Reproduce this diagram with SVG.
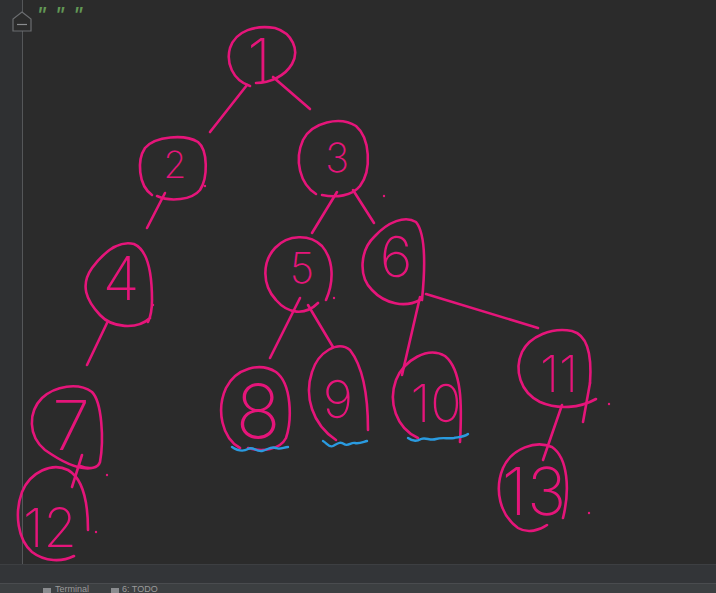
<svg xmlns="http://www.w3.org/2000/svg" width="716" height="593" viewBox="0 0 716 593">
<style>
.ink{fill:none;stroke:#e5157a;stroke-width:2.6;stroke-linecap:round;stroke-linejoin:round}
.lbl{fill:#e5157a;font-family:Inter,"Liberation Sans",sans-serif;font-weight:200;text-anchor:middle}
.wave{fill:none;stroke:#2a9be0;stroke-width:2.4;stroke-linecap:round;stroke-linejoin:round}
.dot{fill:#e5157a}
.ui{font-family:"Liberation Sans",sans-serif;font-size:9px;fill:#9a9a9a}
</style>
<rect width="716" height="593" fill="#2b2b2b"/>
<rect x="0" y="0" width="22" height="564" fill="#2f3032"/>
<line x1="22.5" y1="0" x2="22.5" y2="564" stroke="#555759" stroke-width="1"/>
<g id="fold">
<path d="M22,12 L31,19 L31,31 L13,31 L13,19 Z" fill="#2b2b2b" stroke="#6b6d70" stroke-width="1.2"/>
<line x1="17" y1="24.5" x2="27" y2="24.5" stroke="#8a8c8f" stroke-width="1.2"/>
</g>
<text x="36" y="20" font-family="'Liberation Mono',monospace" font-size="18" font-weight="bold" font-style="italic" fill="#629755" letter-spacing="7.5">"""</text>
<rect x="0" y="564" width="716" height="19" fill="#333538"/>
<line x1="0" y1="564.5" x2="716" y2="564.5" stroke="#3d3f42"/>
<rect x="0" y="583" width="716" height="10" fill="#3c3f41"/>
<line x1="0" y1="583.5" x2="716" y2="583.5" stroke="#4a4c4f"/>
<rect x="43" y="588" width="8" height="5" fill="#8a8c8f"/>
<text class="ui" x="55" y="592">Terminal</text>
<rect x="111" y="588" width="8" height="5" fill="#8a8c8f"/>
<text class="ui" x="122" y="592">6: TODO</text>

<g id="connectors">
<path class="ink" d="M247,85 L210,132"/>
<path class="ink" d="M273,77 L310,109"/>
<path class="ink" d="M165,193 L147,228"/>
<path class="ink" d="M337,192 L312,233"/>
<path class="ink" d="M353,190 L374,223"/>
<path class="ink" d="M107,323 L87,365"/>
<path class="ink" d="M300,298 L270,358"/>
<path class="ink" d="M308,305 L333,347"/>
<path class="ink" d="M420,297 L402,375"/>
<path class="ink" d="M426,294 L538,328"/>
<path class="ink" d="M82,455 L72,487"/>
<path class="ink" d="M562,405 L543,460"/>
</g>

<g id="node1"><path class="ink" d="M250,86 C232,80 226,62 230,48 C236,30 256,25 275,28 C292,33 300,50 292,64 C285,76 270,83 256,83"/><text class="lbl" x="259" y="83" font-size="62">1</text></g>
<g id="node2"><path class="ink" d="M152,195 C138,185 137,160 145,148 C155,136 185,134 198,142 C208,150 208,178 200,190 C192,200 170,202 157,196"/><text class="lbl" x="175" y="178" font-size="37">2</text></g>
<g id="node3"><path class="ink" d="M316,194 C300,184 294,160 303,140 C312,122 340,116 356,126 C370,138 372,170 360,186 C352,196 336,198 322,195"/><text class="lbl" x="337" y="172" font-size="40">3</text></g>
<g id="node4"><path class="ink" d="M150,318 C137,330 112,328 100,315 C86,300 80,285 92,268 C104,252 118,240 134,244 C148,250 152,275 152,300 C152,310 151,316 148,322"/><text class="lbl" x="121" y="300" font-size="60">4</text></g>
<g id="node5"><path class="ink" d="M318,303 C305,316 288,314 276,300 C262,285 262,262 275,248 C288,234 310,234 322,246 C334,260 334,282 326,300"/><text class="lbl" x="302" y="283" font-size="42">5</text></g>
<g id="node6"><path class="ink" d="M420,300 C405,308 385,304 372,290 C358,276 360,250 375,236 C388,222 405,215 416,222 C426,234 425,270 422,300"/><text class="lbl" x="396" y="277" font-size="56">6</text></g>
<g id="node7"><path class="ink" d="M92,468 C80,470 62,462 45,450 C28,436 28,412 42,398 C55,386 78,382 92,392 C102,402 104,440 100,462 C98,468 90,470 80,466"/><text class="lbl" x="71" y="450" font-size="68">7</text></g>
<g id="node12"><path class="ink" d="M88,530 C88,500 82,478 68,470 C52,462 30,472 22,492 C14,514 18,540 32,552 C45,562 62,562 74,556"/><text class="lbl" x="50" y="547" font-size="54">12</text></g>
<g id="node8"><path class="ink" d="M240,448 C222,438 216,410 226,388 C236,368 260,362 276,372 C292,384 292,420 286,438 C280,450 262,452 248,448"/><text class="lbl" x="258" y="438" font-size="74">8</text></g>
<g id="node9"><path class="ink" d="M368,430 C368,400 364,368 350,350 C338,340 318,352 312,372 C304,396 312,424 336,440"/><text class="lbl" x="338" y="418" font-size="52">9</text></g>
<g id="node10"><path class="ink" d="M460,442 C462,405 462,370 445,356 C428,346 404,360 396,380 C388,402 396,428 418,438"/><text class="lbl" x="436" y="422" font-size="52">10</text></g>
<g id="node11"><path class="ink" d="M590,383 C592,355 588,335 572,331 C552,327 530,336 522,352 C514,370 520,392 540,402 C558,410 580,408 596,399"/><path class="ink" d="M590,383 L583,422"/><text class="lbl" x="559" y="392" font-size="50">11</text></g>
<g id="node13"><path class="ink" d="M563,518 C570,490 568,458 552,447 C536,440 512,448 503,468 C494,490 500,515 518,528 C528,534 540,530 547,525"/><text class="lbl" x="534" y="515" font-size="66">13</text></g>

<g id="marks">
<path class="wave" d="M232,447 C238,451 243,452 248,449 C253,446 256,452 262,451 C268,450 270,446 276,448 C280,450 284,447 288,447"/>
<path class="wave" d="M323,441 C327,443 329,448 333,446 C337,444 340,441 344,444 C348,447 351,442 355,443 C359,444 363,442 367,441"/>
<path class="wave" d="M408,438 C412,441 416,442 421,439 C426,437 430,441 436,439 C442,437 448,439 454,438 C459,437 464,437 468,434"/>
<circle class="dot" cx="205" cy="186" r="1.2"/>
<circle class="dot" cx="153" cy="305" r="1.2"/>
<circle class="dot" cx="334" cy="298" r="1.2"/>
<circle class="dot" cx="609" cy="404" r="1.2"/>
<circle class="dot" cx="589" cy="513" r="1.2"/>
<circle class="dot" cx="96" cy="532" r="1.2"/>
<circle class="dot" cx="107" cy="475" r="1.2"/>
<circle class="dot" cx="384" cy="196" r="1.2"/>
</g>
</svg>
